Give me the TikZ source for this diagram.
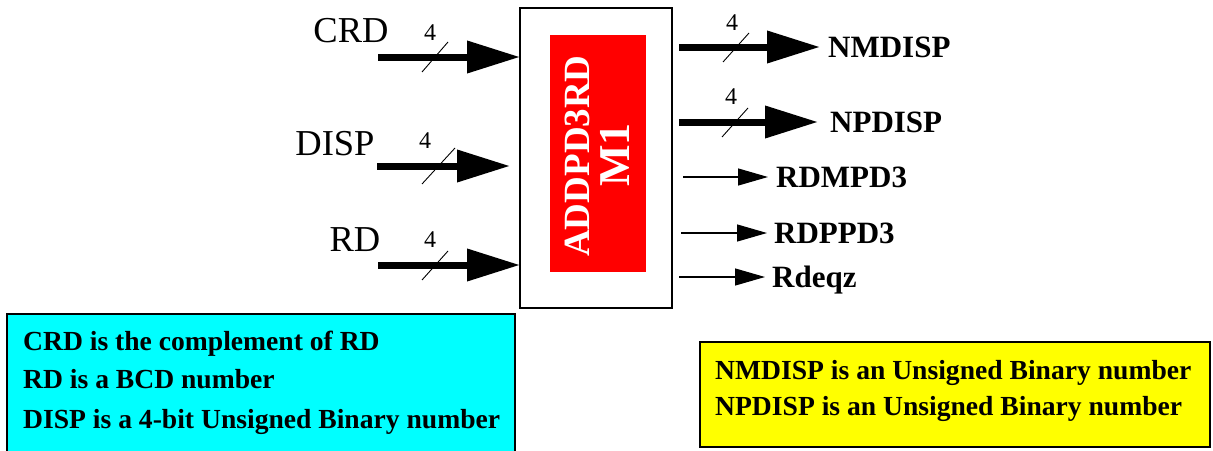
\documentclass[tikz,border=0pt]{standalone}
\usepackage{fontspec}
\setmainfont{Liberation Serif}
\usetikzlibrary{arrows.meta}
\definecolor{notecyan}{RGB}{0,255,255}
\definecolor{noteyellow}{RGB}{255,255,0}
\definecolor{corered}{RGB}{255,0,0}
\begin{document}
\begin{tikzpicture}[x=1pt,y=-1pt,
  sig/.style={inner sep=0pt,text height=24pt,text depth=0pt,font=\fontsize{36.5}{36.5}\selectfont},
  outsig/.style={inner sep=0pt,text height=20.5pt,text depth=0pt,font=\fontsize{31}{31}\selectfont\bfseries,anchor=west},
  width4/.style={inner sep=0pt,text height=16pt,text depth=0pt,font=\fontsize{24}{24}\selectfont},
  bus/.style={line width=7pt,-{Triangle[length=53pt,width=31pt]}},
  wire/.style={line width=1.2pt,-{Triangle[length=30pt,width=17pt]}},
  slash/.style={line width=0.9pt},
  note/.style={inner sep=0pt,text height=18.3pt,text depth=0pt,anchor=west,font=\fontsize{27.6}{27.6}\selectfont\bfseries}]
\useasboundingbox (0,0) rectangle (1213,450);

% block and its inner label
\node (blk) [draw,line width=1.3pt,fill=white,minimum width=152pt,minimum height=300pt,inner sep=0pt] at (596,158) {};
\node (core) [fill=corered,minimum width=96pt,minimum height=237pt,inner sep=0pt] at (598,153.5) {};
\node (name) [rotate=90,text=white,font=\fontsize{37}{37}\selectfont\bfseries,inner sep=0pt] at (577,156) {ADDPD3RD};
\node (inst) [rotate=90,text=white,font=\fontsize{44}{44}\selectfont\bfseries,inner sep=0pt] at (615,155) {M1};

% inputs
\node (crd) [sig] at (351,30) {CRD};
\node (disp) [sig] at (335,143) {DISP};
\node (rd) [sig] at (355,239) {RD};
\coordinate (crd0) at (378,57);  \coordinate (crd1) at (520,57);
\coordinate (disp0) at (377,166); \coordinate (disp1) at (510,166);
\coordinate (rd0) at (378,265);  \coordinate (rd1) at (520,265);
\draw[bus] (crd0) -- (crd1);
\draw[bus] (disp0) -- (disp1);
\draw[bus] (rd0) -- (rd1);
\draw[slash] (422,72) -- (448,42);
\draw[slash] (422,184) -- (455,148);
\draw[slash] (422,280) -- (448,251);
\node (w1) [width4] at (430,32) {4};
\node (w2) [width4] at (425,140) {4};
\node (w3) [width4] at (430,239) {4};

% outputs
\node (nm) [outsig] at (828,47) {NMDISP};
\node (np) [outsig] at (830,122) {NPDISP};
\node (rdm) [outsig] at (776,177) {RDMPD3};
\node (rdp) [outsig] at (774,233) {RDPPD3};
\node (rz) [outsig] at (772,277) {Rdeqz};
\coordinate (nm0) at (679,47);   \coordinate (nm1) at (820,47);
\coordinate (np0) at (679,122);  \coordinate (np1) at (818,122);
\coordinate (rdm0) at (683,177); \coordinate (rdm1) at (768,177);
\coordinate (rdp0) at (681,233); \coordinate (rdp1) at (767,233);
\coordinate (rz0) at (679,277);  \coordinate (rz1) at (765,277);
\draw[bus] (nm0) -- (nm1);
\draw[bus] (np0) -- (np1);
\draw[wire] (rdm0) -- (rdm1);
\draw[wire] (rdp0) -- (rdp1);
\draw[wire] (rz0) -- (rz1);
\draw[slash] (723,62) -- (749,33);
\draw[slash] (722,137) -- (748,108);
\node (w4) [width4] at (732,22) {4};
\node (w5) [width4] at (731,96) {4};

% notes
\node (inbox) [draw,line width=1.2pt,fill=notecyan,minimum width=508pt,minimum height=140pt,inner sep=0pt] at (261,384) {};
\node (n1) [note] at (23,341) {CRD is the complement of RD};
\node (n2) [note] at (23,379) {RD is a BCD number};
\node (n3) [note] at (23,419) {DISP is a 4-bit Unsigned Binary number};
\node (outbox) [draw,line width=1.2pt,fill=noteyellow,minimum width=510pt,minimum height=105pt,inner sep=0pt] at (955,394.5) {};
\node (n4) [note] at (715,370) {NMDISP is an Unsigned Binary number};
\node (n5) [note] at (715,406.5) {NPDISP is an Unsigned Binary number};
\end{tikzpicture}
\end{document}
